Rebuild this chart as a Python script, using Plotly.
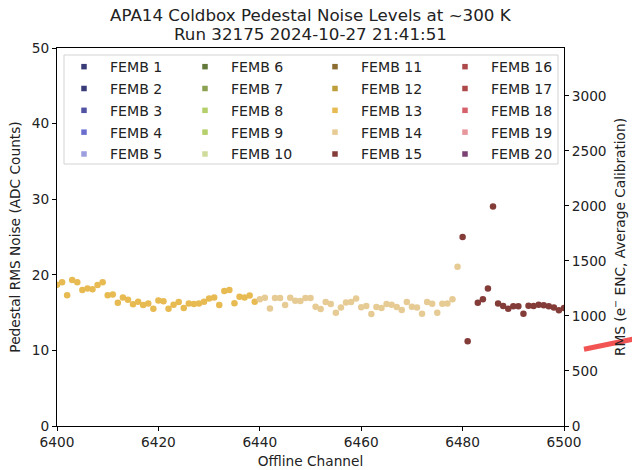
import plotly.graph_objects as go

# ---------------- data ----------------
femb_names = [f"FEMB {i}" for i in range(1, 21)]
femb_colors = [
    "#393b79", "#393b79", "#5254a3", "#6b6ecf", "#9c9ede",
    "#637939", "#8ca252", "#b5cf6b", "#b5cf6b", "#cedb9c",
    "#8c6d31", "#bd9e39", "#e7ba52", "#e7cb94", "#843c39",
    "#ad494a", "#ad494a", "#d6616b", "#e7969c", "#7b4173",
]

femb13_channels = list(range(6400, 6440))
femb13_rms = [18.7, 19.0, 17.3, 19.3, 19.0, 18.0, 18.2, 18.1, 18.65, 19.0,
              17.3, 17.4, 16.3, 17.0, 16.7, 16.1, 16.45, 16.0, 16.2, 15.5,
              16.6, 16.5, 15.5, 16.05, 16.4, 15.6, 16.2, 16.15, 16.2, 16.45,
              16.85, 17.0, 16.0, 17.85, 18.0, 16.25, 17.1, 17.0, 17.25, 16.45]

femb14_channels = list(range(6440, 6480))
femb14_rms = [16.76, 16.95, 15.55, 16.93, 16.93, 16.0, 16.98, 16.58, 16.53, 16.93,
              16.93, 15.79, 15.47, 16.4, 16.13, 14.99, 15.66, 16.32, 16.4, 16.85,
              15.7, 15.87, 14.8, 15.75, 15.6, 16.13, 16.05, 15.74, 15.34, 16.4,
              15.79, 15.66, 14.86, 16.4, 16.18, 14.99, 16.18, 16.22, 16.75, 21.05]

femb15_channels = list(range(6480, 6501))
femb15_rms = [25.0, 11.2, None, 16.3, 16.75, 18.2, 29.05, 16.2, 15.87, 15.52,
              15.83, 15.83, 14.86, 15.92, 15.87, 16.05, 15.96, 15.83, 15.66, 15.3,
              15.6]

x_ticks = [6400, 6420, 6440, 6460, 6480, 6500]
y_ticks = [0, 10, 20, 30, 40, 50]
y2_ticks = [0, 500, 1000, 1500, 2000, 2500, 3000]
y2_max = 3436

title_line1 = "APA14 Coldbox Pedestal Noise Levels at ~300 K"
title_line2 = "Run 32175 2024-10-27 21:41:51"

# ---------------- figure ----------------
FONT = "DejaVu Sans"
FS = 13.7
fig = go.Figure()

data_sets = {13: (femb13_channels, femb13_rms),
             14: (femb14_channels, femb14_rms),
             15: (femb15_channels, femb15_rms)}
for femb, (ch, rms) in data_sets.items():
    fig.add_trace(go.Scatter(
        x=ch, y=rms, mode="markers", showlegend=False, hoverinfo="skip",
        marker=dict(color=femb_colors[femb - 1], size=6.5, line=dict(width=0)),
    ))

legend_ids = ["legend", "legend2", "legend3", "legend4"]
for i, (name, col) in enumerate(zip(femb_names, femb_colors)):
    fig.add_trace(go.Scatter(
        x=[None], y=[None], mode="markers", name=name,
        legend=legend_ids[i // 5], legendgroup=name,
        marker=dict(color=col, symbol="square", size=5.5, line=dict(width=0)),
    ))

# invisible trace to activate the secondary axis
fig.add_trace(go.Scatter(x=[None], y=[None], yaxis="y2", showlegend=False,
                         hoverinfo="skip"))

L, R, T, B = 57, 68, 48, 44
W, H = 632, 470
pw, ph = W - L - R, H - T - B

def px2x(px):
    return (px - L) / pw

def py2y(py):
    return (H - B - py) / ph

legend_common = dict(font=dict(family=FONT, size=14.1, color="#222"),
                     bgcolor="rgba(0,0,0,0)", borderwidth=0,
                     orientation="v", xanchor="left", yanchor="top",
                     tracegroupgap=0.5, itemwidth=42)
marker_cols = [84, 205, 335, 465]
layout_legends = {}
for lid, mx in zip(legend_ids, marker_cols):
    layout_legends[lid] = dict(legend_common, x=px2x(mx - 26), y=py2y(51))

axis_common = dict(showgrid=False, zeroline=False, showline=True,
                   linecolor="black", linewidth=1, ticks="outside",
                   ticklen=4, tickcolor="black", tickwidth=1,
                   tickfont=dict(family=FONT, size=FS, color="#222"))

fig.update_layout(
    width=W, height=H,
    margin=dict(l=L, r=R, t=T, b=B, autoexpand=False),
    paper_bgcolor="white", plot_bgcolor="white",
    font=dict(family=FONT, size=FS, color="#222"),
    xaxis=dict(axis_common, range=[6400, 6500], tickvals=x_ticks, mirror=True,
               title=dict(text="Offline Channel", standoff=6,
                          font=dict(family=FONT, size=FS, color="#222"))),
    yaxis=dict(axis_common, range=[0, 50], tickvals=y_ticks,
               title=dict(text="Pedestal RMS Noise (ADC Counts)", standoff=8,
                          font=dict(family=FONT, size=FS, color="#222"))),
    yaxis2=dict(axis_common, range=[0, y2_max], tickvals=y2_ticks,
                overlaying="y", side="right",
                title=dict(text="RMS (e<sup>−</sup> ENC, Average Calibration)",
                           standoff=9,
                           font=dict(family=FONT, size=FS, color="#222"))),
    showlegend=True,
    **layout_legends,
)

# legend frame
fig.add_shape(type="rect", xref="paper", yref="paper",
              x0=px2x(64), x1=px2x(558), y0=py2y(164), y1=py2y(55),
              line=dict(color="#d3d3d3", width=1),
              fillcolor="rgba(255,255,255,0.8)", layer="above")

# red stroke at bottom right
fig.add_shape(type="line", xref="paper", yref="paper",
              x0=px2x(584), y0=py2y(349.3), x1=px2x(640), y1=py2y(337.7),
              line=dict(color="#f25454", width=5), layer="above")

fig.add_annotation(text=title_line1, xref="paper", yref="paper",
                   x=0.5, y=py2y(15), showarrow=False, xanchor="center",
                   yanchor="middle", font=dict(family=FONT, size=16.7, color="#222"))
fig.add_annotation(text=title_line2, xref="paper", yref="paper",
                   x=0.5, y=py2y(34), showarrow=False, xanchor="center",
                   yanchor="middle", font=dict(family=FONT, size=16.7, color="#222"))

fig.write_html("out.html")
